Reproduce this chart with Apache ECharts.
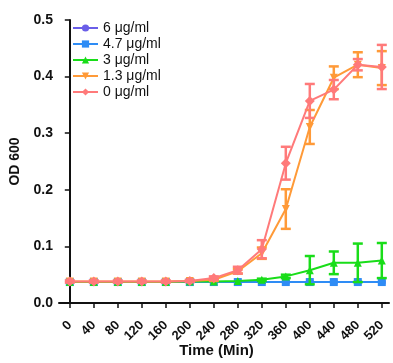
<!DOCTYPE html>
<html>
<head>
<meta charset="utf-8">
<script src="https://cdn.jsdelivr.net/npm/echarts@6/dist/echarts.min.js"></script>
<style>
  html, body { margin: 0; padding: 0; background: #fff; }
  #chart { width: 393px; height: 363px; }
</style>
</head>
<body>
<div id="chart"></div>
<script>
const times = [0, 40, 80, 120, 160, 200, 240, 280, 320, 360, 400, 440, 480, 520];
const yTicks = [0, 0.1, 0.2, 0.3, 0.4, 0.5];

const names = ["6 μg/ml", "4.7 μg/ml", "3 μg/ml", "1.3 μg/ml", "0 μg/ml"];
const colors = ["#6a5ee8", "#2e8cf5", "#19dd19", "#ff9a38", "#ff7a7a"];
const symbols = ["circle", "rect", "triangle", "path://M0,0L10,0L5,10Z", "diamond"];

// mean OD600 per concentration
const od6 = [0.037, 0.037, 0.037, 0.037, 0.037, 0.037, 0.037, 0.037, 0.037, 0.037, 0.037, 0.037, 0.037, 0.037];
const od47 = [0.037, 0.037, 0.037, 0.037, 0.037, 0.037, 0.037, 0.037, 0.037, 0.037, 0.037, 0.037, 0.037, 0.037];
const od3 = [0.037, 0.037, 0.037, 0.037, 0.037, 0.038, 0.038, 0.039, 0.041, 0.047, 0.058, 0.071, 0.071, 0.075];
const od13 = [0.038, 0.038, 0.038, 0.038, 0.038, 0.039, 0.041, 0.056, 0.088, 0.166, 0.311, 0.398, 0.421, 0.415];
const od0 = [0.038, 0.038, 0.038, 0.038, 0.038, 0.039, 0.044, 0.058, 0.095, 0.247, 0.357, 0.377, 0.421, 0.417];

// error (± SD)
const err6 = [0, 0, 0, 0, 0, 0, 0, 0, 0, 0, 0, 0, 0, 0];
const err47 = [0, 0, 0, 0, 0, 0, 0, 0, 0, 0, 0, 0, 0, 0];
const err3 = [0, 0, 0, 0, 0, 0, 0, 0, 0.002, 0.003, 0.025, 0.02, 0.034, 0.031];
const err13 = [0, 0, 0, 0, 0, 0.001, 0.002, 0.004, 0.01, 0.035, 0.03, 0.02, 0.022, 0.03];
const err0 = [0.002, 0.002, 0.002, 0.002, 0.002, 0.002, 0.003, 0.006, 0.016, 0.029, 0.03, 0.017, 0.01, 0.039];

const means = [od6, od47, od3, od13, od0];
const errs = [err6, err47, err3, err13, err0];

const series = [];
means.forEach((vals, i) => {
  series.push({
    name: names[i],
    type: "line",
    data: vals.map((v, j) => [times[j], v]),
    symbol: symbols[i],
    symbolSize: i === 4 ? 10 : 8,
    lineStyle: { width: 2, color: colors[i] },
    itemStyle: { color: colors[i] },
    z: 2 + i * 2,
  });
  series.push({
    name: names[i],
    type: "custom",
    z: 3 + i * 2,
    data: vals.map((v, j) => [times[j], v - errs[i][j], v + errs[i][j]]),
    renderItem: (params, api) => {
      const lo = api.coord([api.value(0), api.value(1)]);
      const hi = api.coord([api.value(0), api.value(2)]);
      if (Math.abs(lo[1] - hi[1]) < 1) return null;
      const w = 5;
      const style = { stroke: colors[i], lineWidth: 2.5 };
      return {
        type: "group",
        children: [
          { type: "line", shape: { x1: lo[0], y1: lo[1], x2: hi[0], y2: hi[1] }, style },
          { type: "line", shape: { x1: lo[0] - w, y1: lo[1], x2: lo[0] + w, y2: lo[1] }, style },
          { type: "line", shape: { x1: hi[0] - w, y1: hi[1], x2: hi[0] + w, y2: hi[1] }, style },
        ],
      };
    },
  });
});

const chart = echarts.init(document.getElementById("chart"));
chart.setOption({
  animation: false,
  backgroundColor: "#fff",
  grid: { left: 59, right: 4, top: 20, bottom: 60, outerBoundsMode: "none", containLabel: false },
  legend: {
    orient: "vertical",
    left: 67,
    top: 16,
    itemWidth: 25,
    itemHeight: 9,
    itemGap: 2,
    data: names,
    textStyle: { fontFamily: "Liberation Sans", fontSize: 14, color: "#111" },
  },
  xAxis: {
    type: "value",
    min: -18,
    max: 532,
    name: "Time (Min)",
    nameLocation: "middle",
    nameGap: 40,
    nameMoveOverlap: false,
    nameTextStyle: { fontFamily: "Liberation Sans", fontWeight: "bold", fontSize: 15, color: "#111", padding: [0, 15, 0, 0] },
    axisLine: { lineStyle: { color: "#111", width: 2 } },
    axisTick: { show: true, length: 5, lineStyle: { color: "#111", width: 1.5 }, customValues: times },
    axisLabel: {
      customValues: times,
      rotate: 45,
      margin: 20,
      fontFamily: "Liberation Sans",
      fontWeight: "bold",
      fontSize: 13,
      color: "#111",
    },
    splitLine: { show: false },
  },
  yAxis: {
    type: "value",
    min: 0,
    max: 0.5,
    interval: 0.1,
    name: "OD 600",
    nameLocation: "middle",
    nameGap: 37,
    nameMoveOverlap: false,
    nameTextStyle: { fontFamily: "Liberation Sans", fontWeight: "bold", fontSize: 14, color: "#111" },
    axisLine: { show: true, lineStyle: { color: "#111", width: 2 } },
    axisTick: { show: true, length: 5, lineStyle: { color: "#111", width: 1.5 } },
    axisLabel: {
      margin: 6,
      fontFamily: "Liberation Sans",
      fontWeight: "bold",
      fontSize: 14,
      color: "#111",
      formatter: (v) => yTicks.includes(Math.round(v * 10) / 10) ? v.toFixed(1) : "",
    },
    splitLine: { show: false },
  },
  series,
});
</script>
</body>
</html>
